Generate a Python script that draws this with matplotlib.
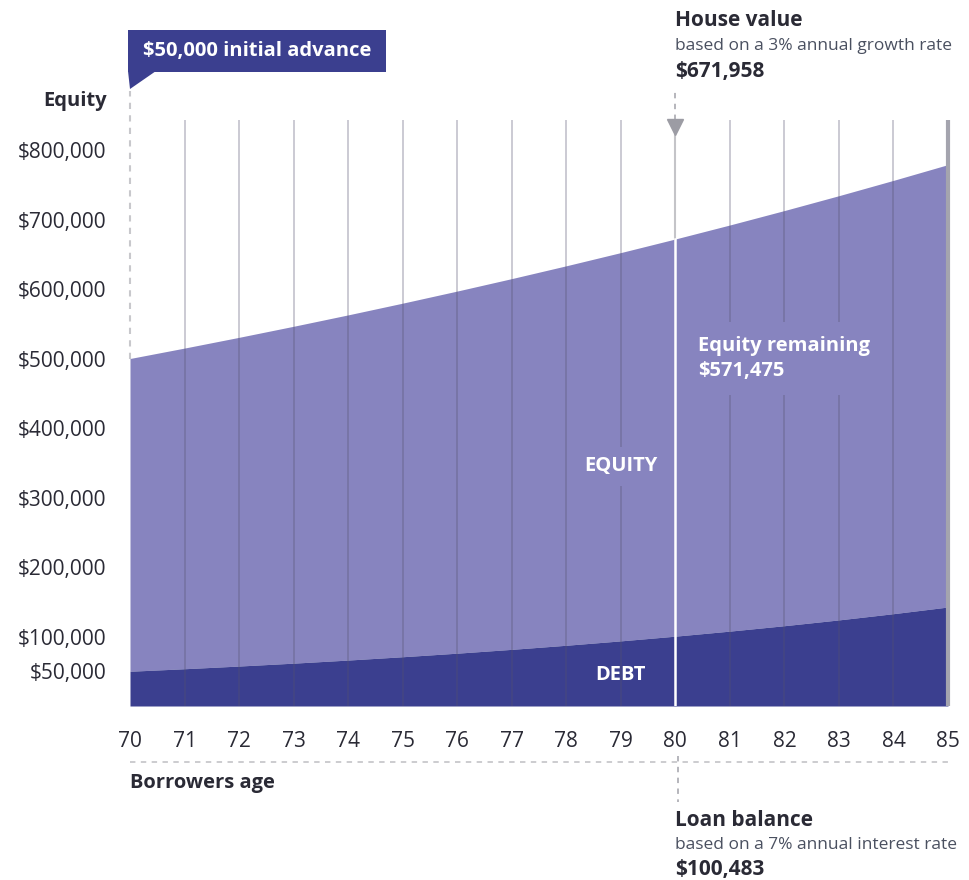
import matplotlib
matplotlib.use("Agg")
import matplotlib.pyplot as plt
from matplotlib.patches import Polygon, Rectangle
import numpy as np

# ---- data ----
ages = [70, 71, 72, 73, 74, 75, 76, 77, 78, 79, 80, 81, 82, 83, 84, 85]
house_value = [500000, 515000, 530450, 546364, 562754, 579637, 597026, 614937,
               633385, 652387, 671958, 692117, 712880, 734267, 756295, 778984]
loan_balance = [50000, 53615, 57490, 61646, 66103, 70881, 76005, 81500,
                87391, 93709, 100483, 107747, 115536, 123889, 132845, 142448]
ytick_vals = [50000, 100000, 200000, 300000, 400000, 500000, 600000, 700000, 800000]
ytick_labels = ["$50,000", "$100,000", "$200,000", "$300,000", "$400,000",
                "$500,000", "$600,000", "$700,000", "$800,000"]
focus_age = 80
focus_house = "$671,958"
focus_loan = "$100,483"
focus_equity = "$571,475"

EQ = "#8784bf"
DEBT = "#3b3f8f"
TXT = "#2a2a35"
FONT = ["Open Sans", "DejaVu Sans"]
plt.rcParams["font.family"] = FONT

W, H = 970, 880
fig = plt.figure(figsize=(W / 100, H / 100), dpi=100)

def fx(px):
    return px / W

def fy(py):
    return 1 - py / H

ax_l, ax_r, ax_t, ax_b = 130, 948, 120, 706
ax = fig.add_axes([fx(ax_l), fy(ax_b), fx(ax_r - ax_l), (ax_b - ax_t) / H])
ymax = (ax_b - ax_t) / 69.5 * 100000
ax.set_xlim(ages[0], ages[-1])
ax.set_ylim(0, ymax)

ax.fill_between(ages, loan_balance, house_value, color=EQ, lw=0, zorder=1)
ax.fill_between(ages, 0, loan_balance, color=DEBT, lw=0, zorder=1)

# vertical grid lines
for a in ages[1:-1]:
    if a == focus_age:
        continue
    ax.plot([a, a], [0, ymax], color="#55526f", alpha=0.33, lw=1.3, zorder=2,
            solid_capstyle="butt")
# right edge line
ax.plot([ages[-1], ages[-1]], [0, ymax], color="#a4a4ae", lw=3, zorder=2,
        solid_capstyle="butt", clip_on=False)
# left dashed line
ax.plot([ages[0], ages[0]], [house_value[0], ymax * 1.05], color="#c8c8cc", lw=1.5,
        ls=(0, (3, 3)), zorder=2, clip_on=False)

# focus line at 80
i80 = ages.index(focus_age)
ax.plot([focus_age, focus_age], [0, house_value[i80]], color="white", lw=1.8, zorder=7)
ax.plot([focus_age, focus_age], [house_value[i80], ymax], color="#c4c4c8", lw=1.5, zorder=3)
ax.plot([focus_age, focus_age], [ymax, ymax * 1.055], color="#b0b0b6", lw=1.3,
        ls=(0, (3, 3)), zorder=3, clip_on=False)
ax.plot([focus_age], [ymax - 10000], marker="v", ms=11, color="#9c9ca4", zorder=4,
        clip_on=False)

# y ticks
ax.set_yticks(ytick_vals)
ax.set_yticklabels(ytick_labels, fontsize=15, color=TXT)
ax.set_xticks(ages)
ax.set_xticklabels([str(a) for a in ages], fontsize=15, color=TXT)
ax.tick_params(length=0, pad=18)
ax.tick_params(axis="y", pad=17)
for s in ax.spines.values():
    s.set_visible(False)

# in-chart labels
ax.text(79.0, 345000, "EQUITY", color="white", fontsize=14.5, fontweight="bold",
        ha="center", va="center", zorder=5,
        bbox=dict(facecolor=EQ, edgecolor="none", pad=7))
ax.text(79.0, 45000, "DEBT", color="white", fontsize=14.5, fontweight="bold",
        ha="center", va="center", zorder=5)
ax.text(80.42, 500000, "Equity remaining\n" + focus_equity, color="white", fontsize=14.5,
        fontweight="bold", ha="left", va="center", linespacing=1.3, zorder=5,
        bbox=dict(facecolor=EQ, edgecolor="none", pad=10))

# axis titles
fig.text(fx(107), fy(101), "Equity", fontsize=14.5, fontweight="bold", color=TXT,
         ha="right", va="center")
fig.text(fx(130), fy(783), "Borrowers age", fontsize=14.5, fontweight="bold", color=TXT,
         ha="left", va="center")
fig.lines.append(plt.Line2D([fx(130), fx(948)], [fy(762), fy(762)], transform=fig.transFigure,
                            color="#c8c8cc", lw=1.3, ls=(0, (3, 3))))
fig.lines.append(plt.Line2D([fx(678), fx(678)], [fy(756), fy(802)], transform=fig.transFigure,
                            color="#b0b0b6", lw=1.3, ls=(0, (3, 3))))

# initial advance callout
fig.patches.append(Rectangle((fx(128), fy(72)), fx(386 - 128), (72 - 30) / H,
                             transform=fig.transFigure, facecolor=DEBT, edgecolor="none"))
fig.patches.append(Polygon([[fx(128), fy(71)], [fx(156), fy(71)], [fx(130), fy(89)]],
                           closed=True, transform=fig.transFigure, facecolor=DEBT,
                           edgecolor="none"))
fig.text(fx(257), fy(51), "$50,000 initial advance", fontsize=14.5, fontweight="bold",
         color="white", ha="center", va="center")

# house value annotation
fig.text(fx(675), fy(21), "House value", fontsize=15, fontweight="bold", color=TXT,
         ha="left", va="center")
fig.text(fx(675), fy(46), "based on a 3% annual growth rate", fontsize=12.5,
         color="#4a5060", ha="left", va="center")
fig.text(fx(675), fy(72), focus_house, fontsize=15, fontweight="bold", color=TXT,
         ha="left", va="center")

# loan balance annotation
fig.text(fx(675), fy(820), "Loan balance", fontsize=15, fontweight="bold", color=TXT,
         ha="left", va="center")
fig.text(fx(675), fy(845), "based on a 7% annual interest rate", fontsize=12.5,
         color="#4a5060", ha="left", va="center")
fig.text(fx(675), fy(869), focus_loan, fontsize=15, fontweight="bold", color=TXT,
         ha="left", va="center")

fig.savefig("out.png", dpi=100, facecolor="white")
